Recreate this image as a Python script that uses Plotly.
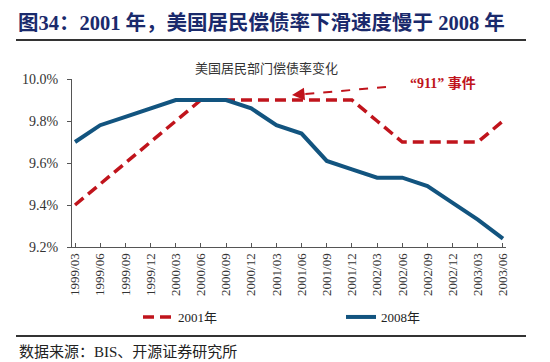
import plotly.graph_objects as go

categories = ["1999/03", "1999/06", "1999/09", "1999/12", "2000/03", "2000/06",
              "2000/09", "2000/12", "2001/03", "2001/06", "2001/09", "2001/12",
              "2002/03", "2002/06", "2002/09", "2002/12", "2003/03", "2003/06"]
series_2001 = [9.40, 9.50, 9.60, 9.70, 9.80, 9.90, 9.90, 9.90, 9.90, 9.90, 9.90, 9.90,
               9.80, 9.70, 9.70, 9.70, 9.70, 9.80]
series_2008 = [9.70, 9.78, 9.82, 9.86, 9.90, 9.90, 9.90, 9.86, 9.78, 9.74, 9.61, 9.57,
               9.53, 9.53, 9.49, 9.41, 9.33, 9.24]
y_ticks = [9.2, 9.4, 9.6, 9.8, 10.0]
y_tick_labels = ["9.2%", "9.4%", "9.6%", "9.8%", "10.0%"]

RED = "#C0141C"
BLUE = "#12547F"
SERIF = "Liberation Serif, Noto Sans CJK SC, serif"

# plot area in pixels: x 64..498, y 71..239
L, R, T, B = 64, 498, 71, 239
W, H = R - L, B - T
def px(x):
    return (x - L) / W
def py(y):
    return (B - y) / H

fig = go.Figure()
fig.add_trace(go.Scatter(x=categories, y=series_2001, name="2001年", mode="lines",
                         line=dict(color=RED, width=3.5, dash="11px,6px")))
fig.add_trace(go.Scatter(x=categories, y=series_2008, name="2008年", mode="lines",
                         line=dict(color=BLUE, width=4)))

fig.update_layout(
    width=550, height=362,
    margin=dict(l=L, r=550 - R, t=T, b=362 - B),
    paper_bgcolor="white", plot_bgcolor="white",
    showlegend=True,
    legend=dict(orientation="h", x=px(130), y=py(309), yanchor="middle", xanchor="left",
                font=dict(family=SERIF, size=13, color="#222"),
                entrywidth=158, entrywidthmode="pixels", bgcolor="rgba(0,0,0,0)"),
    xaxis=dict(type="category", range=[-0.12, 17.12], showgrid=False,
               showline=True, linecolor="#555", linewidth=1.2,
               ticks="inside", ticklen=4, tickcolor="#555", tickangle=-90,
               tickfont=dict(family=SERIF, size=13, color="#333")),
    yaxis=dict(range=[9.2, 10.0], tickvals=y_ticks, ticktext=y_tick_labels,
               showgrid=False, zeroline=False, showline=True, linecolor="#555",
               linewidth=1.2, ticks="outside", ticklen=4, tickcolor="#555",
               ticklabelstandoff=6,
               tickfont=dict(family=SERIF, size=14, color="#333")),
)

# header, rules, footer
fig.add_annotation(text="<b>图34：2001 年，美国居民偿债率下滑速度慢于 2008 年</b>",
                   xref="paper", yref="paper", x=px(8), y=py(14), xanchor="left",
                   yanchor="middle", showarrow=False,
                   font=dict(family=SERIF, size=20.5, color="#1A2A6C"))
fig.add_shape(type="line", xref="paper", yref="paper", x0=px(8), x1=px(518),
              y0=py(32), y1=py(32), line=dict(color="#333", width=2))
fig.add_shape(type="line", xref="paper", yref="paper", x0=px(8), x1=px(518),
              y0=py(328), y1=py(328), line=dict(color="#333", width=2))
fig.add_annotation(text="数据来源：BIS、开源证券研究所", xref="paper", yref="paper",
                   x=px(9), y=py(344), xanchor="left", yanchor="middle", showarrow=False,
                   font=dict(family=SERIF, size=15, color="#222"))

# chart title
fig.add_annotation(text="美国居民部门偿债率变化", xref="paper", yref="paper",
                   x=px(258), y=py(59), xanchor="center", yanchor="middle", showarrow=False,
                   font=dict(family="Noto Sans CJK SC, sans-serif", size=13, color="#333"))

# 911 annotation
fig.add_annotation(text="<b>“911” 事件</b>", xref="paper", yref="paper",
                   x=px(435), y=py(75), xanchor="center", yanchor="middle", showarrow=False,
                   font=dict(family=SERIF, size=14, color=RED))
fig.add_shape(type="line", xref="paper", yref="paper", x0=px(378), y0=py(79),
              x1=px(292), y1=py(86.5), line=dict(color=RED, width=2, dash="dash"))
fig.add_annotation(text="", xref="paper", yref="paper", x=px(284), y=py(87),
                   ax=14, ay=-1.2, showarrow=True, arrowhead=2, arrowsize=1,
                   arrowwidth=2.5, arrowcolor=RED)

fig.write_html("out.html")
